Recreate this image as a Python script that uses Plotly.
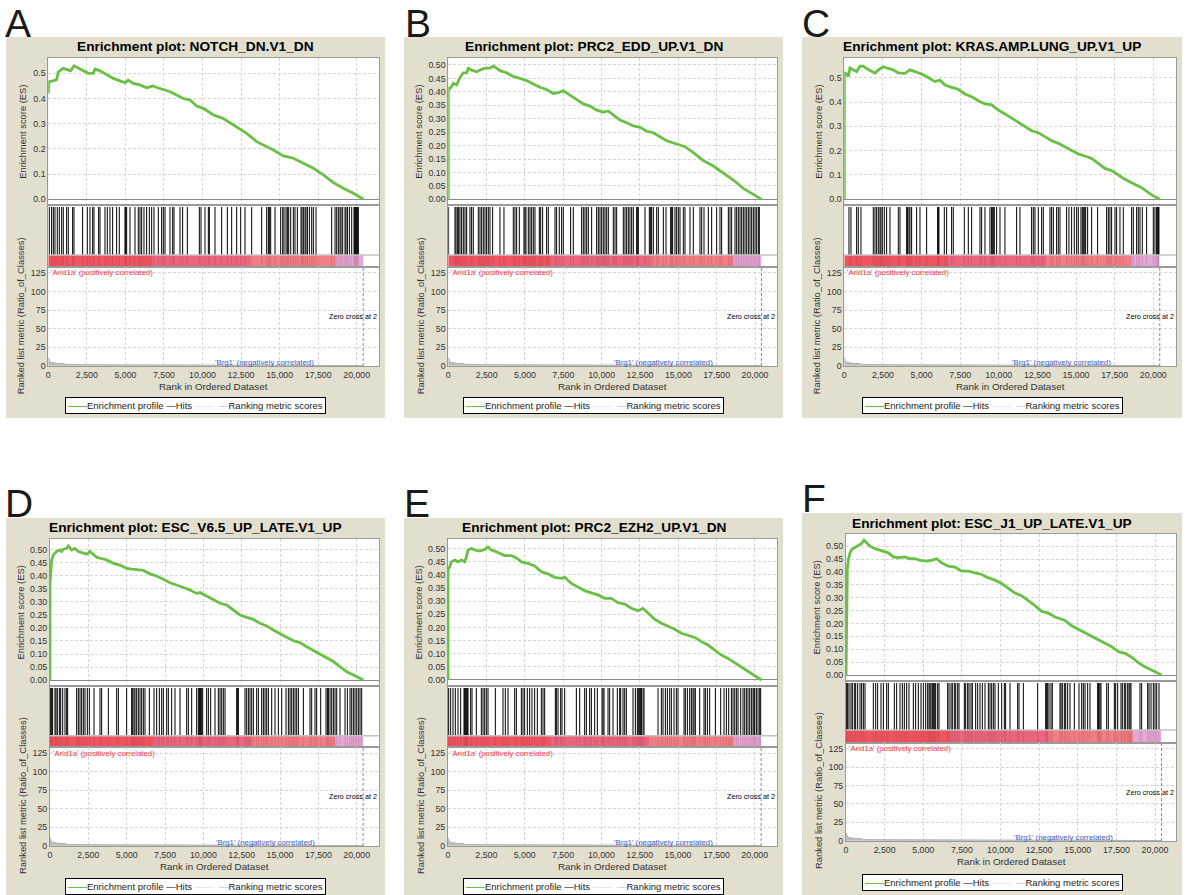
import plotly.graph_objects as go

W, H = 1193, 895
FONT = "Liberation Sans, Arial, sans-serif"

# ---------------- data ----------------
panel_letters = ["A", "B", "C", "D", "E", "F"]
gene_sets = ["NOTCH_DN.V1_DN", "PRC2_EDD_UP.V1_DN", "KRAS.AMP.LUNG_UP.V1_UP",
             "ESC_V6.5_UP_LATE.V1_UP", "PRC2_EZH2_UP.V1_DN", "ESC_J1_UP_LATE.V1_UP"]

es_rank_A = [0, 43, 324, 541, 649, 973, 1189, 1449, 1665, 1946, 2270, 2595, 2919, 3027, 3351, 3784,
             4216, 4649, 4973, 5189, 5514, 5946, 6378, 6811, 7027, 7459, 7892, 8324, 8757, 9189, 9622,
             10054, 10703, 11351, 12000, 12865, 13514, 14162, 14595, 15243, 15892, 16541, 17189,
             17838, 18486, 19135, 19784, 20432]
es_score_A = [0.42, 0.467, 0.47, 0.476, 0.506, 0.52, 0.516, 0.51, 0.53, 0.52, 0.51, 0.50, 0.50, 0.517,
              0.51, 0.494, 0.48, 0.47, 0.463, 0.473, 0.46, 0.454, 0.443, 0.45, 0.444, 0.436, 0.427,
              0.414, 0.40, 0.394, 0.37, 0.361, 0.335, 0.321, 0.295, 0.262, 0.229, 0.209, 0.196, 0.172,
              0.163, 0.143, 0.123, 0.097, 0.066, 0.044, 0.024, 0.0]

es_rank_B = [0, 0, 109, 217, 326, 543, 761, 978, 1196, 1304, 1522, 1848, 2065, 2391, 2717, 2935, 3152,
             3370, 3804, 4239, 4674, 5109, 5543, 5978, 6413, 6848, 7174, 7500, 7935, 8370, 8804, 9239,
             9674, 10109, 10435, 10761, 11196, 11630, 12065, 12500, 12935, 13370, 13804, 14239, 14891,
             15435, 15978, 16630, 17283, 17935, 18587, 19239, 19891, 20435]
es_score_B = [0, 0.413, 0.413, 0.42, 0.432, 0.426, 0.454, 0.471, 0.471, 0.488, 0.481, 0.475, 0.481,
              0.488, 0.488, 0.496, 0.488, 0.479, 0.471, 0.457, 0.45, 0.442, 0.429, 0.417, 0.409, 0.394,
              0.397, 0.404, 0.388, 0.37, 0.355, 0.347, 0.332, 0.325, 0.329, 0.314, 0.295, 0.285, 0.273,
              0.268, 0.254, 0.248, 0.233, 0.218, 0.206, 0.196, 0.174, 0.144, 0.124, 0.097, 0.072, 0.041,
              0.019, 0.0]

es_rank_C = [0, 0, 43, 151, 259, 367, 583, 798, 1014, 1230, 1446, 1769, 1985, 2201, 2524, 2848, 3172,
             3495, 3927, 4250, 4574, 5005, 5437, 5868, 6192, 6516, 6947, 7379, 7810, 8242, 8673, 9105,
             9536, 9968, 10399, 10831, 11262, 11694, 12125, 12557, 12988, 13420, 13851, 14283, 14714,
             15146, 15577, 16009, 16440, 16872, 17303, 17735, 18166, 18598, 19245, 19892, 20431]
es_score_C = [0, 0.52, 0.52, 0.515, 0.505, 0.54, 0.533, 0.525, 0.548, 0.548, 0.538, 0.525, 0.518, 0.532,
              0.545, 0.538, 0.532, 0.52, 0.518, 0.532, 0.525, 0.515, 0.501, 0.484, 0.49, 0.47, 0.46,
              0.452, 0.433, 0.422, 0.405, 0.392, 0.388, 0.367, 0.351, 0.333, 0.315, 0.299, 0.282, 0.274,
              0.258, 0.241, 0.23, 0.216, 0.2, 0.186, 0.178, 0.168, 0.148, 0.127, 0.118, 0.1, 0.082,
              0.068, 0.048, 0.018, 0.0]

es_rank_D = [0, 0, 109, 217, 435, 652, 761, 870, 1087, 1196, 1413, 1630, 1848, 2174, 2391, 2609, 2826,
             3043, 3261, 3587, 3913, 4239, 4565, 5000, 5326, 5652, 6087, 6522, 6957, 7391, 7826, 8261,
             8696, 9130, 9565, 9783, 10217, 10652, 11087, 11522, 11957, 12391, 12826, 13261, 13696,
             14130, 14565, 15000, 15435, 15870, 16304, 16739, 17174, 17609, 18043, 18478, 18913,
             19348, 19783, 20435]
es_score_D = [0, 0.372, 0.46, 0.481, 0.494, 0.5, 0.494, 0.503, 0.506, 0.515, 0.5, 0.506, 0.494, 0.487,
              0.484, 0.494, 0.481, 0.472, 0.468, 0.464, 0.455, 0.446, 0.442, 0.429, 0.426, 0.423, 0.421,
              0.408, 0.4, 0.387, 0.374, 0.365, 0.356, 0.346, 0.333, 0.336, 0.323, 0.308, 0.295, 0.288,
              0.269, 0.25, 0.241, 0.233, 0.218, 0.208, 0.192, 0.177, 0.164, 0.151, 0.144, 0.128, 0.113,
              0.099, 0.083, 0.071, 0.051, 0.032, 0.019, 0.0]

es_rank_E = [0, 0, 109, 217, 435, 652, 870, 1087, 1196, 1304, 1522, 1739, 2065, 2391, 2609, 2826, 3043,
             3370, 3696, 4130, 4457, 4783, 5217, 5652, 6087, 6522, 6957, 7391, 7609, 8043, 8478, 8913,
             9348, 9783, 10217, 10652, 11087, 11522, 11957, 12391, 12717, 13043, 13478, 13913, 14348,
             14783, 15217, 15652, 16087, 16522, 16957, 17391, 17826, 18261, 18696, 19130, 19565,
             20000, 20435]
es_score_E = [0, 0.421, 0.431, 0.45, 0.457, 0.45, 0.457, 0.45, 0.467, 0.495, 0.501, 0.495, 0.491, 0.497,
              0.506, 0.495, 0.491, 0.482, 0.474, 0.474, 0.465, 0.45, 0.444, 0.434, 0.412, 0.404, 0.391,
              0.387, 0.391, 0.368, 0.353, 0.34, 0.332, 0.324, 0.311, 0.311, 0.294, 0.289, 0.273, 0.264,
              0.273, 0.254, 0.231, 0.216, 0.206, 0.193, 0.178, 0.171, 0.162, 0.146, 0.133, 0.114,
              0.095, 0.082, 0.066, 0.048, 0.032, 0.015, 0.0]

es_rank_F = [0, 43, 86, 151, 259, 367, 583, 798, 1014, 1165, 1338, 1553, 1877, 2309, 2740, 3064, 3387,
             3819, 4142, 4466, 4790, 5221, 5545, 5868, 6192, 6624, 7055, 7486, 7918, 8350, 8781, 9212,
             9644, 10076, 10507, 10939, 11370, 11802, 12233, 12665, 13096, 13528, 13851, 14175, 14606,
             15038, 15469, 15901, 16332, 16764, 17195, 17627, 18058, 18490, 18921, 19353, 19784, 20420]
es_score_F = [0, 0.35, 0.41, 0.448, 0.474, 0.487, 0.494, 0.5, 0.51, 0.523, 0.513, 0.5, 0.49, 0.481,
              0.474, 0.458, 0.455, 0.458, 0.451, 0.451, 0.445, 0.442, 0.445, 0.451, 0.435, 0.422, 0.419,
              0.403, 0.403, 0.396, 0.39, 0.377, 0.368, 0.355, 0.338, 0.318, 0.308, 0.29, 0.269, 0.247,
              0.24, 0.225, 0.217, 0.212, 0.191, 0.178, 0.162, 0.149, 0.139, 0.123, 0.11, 0.091, 0.084,
              0.069, 0.048, 0.032, 0.019, 0.0]

hits_A = [65, 216, 324, 432, 584, 714, 865, 973, 1189, 1297, 1578, 1665, 2227, 2530, 2703, 2876, 2962,
          3265, 3351, 3676, 3827, 4000, 4173, 4432, 4605, 4973, 5016, 5081, 5297, 5622, 5838, 5946,
          6054, 6205, 6378, 6551, 6703, 6854, 7135, 7351, 7459, 7568, 7892, 8065, 8151, 8541, 8714,
          9016, 9795, 9903, 10162, 10378, 10443, 10811, 11243, 11611, 11892, 12216, 12476, 12757,
          13189, 13838, 14162, 14270, 14335, 14422, 14703, 15070, 15200, 15286, 15416, 15503, 15589,
          15719, 15892, 16000, 16151, 16389, 16454, 16541, 16649, 16714, 16800, 16930, 17081, 17189,
          17362, 18378, 18595, 18703, 18811, 18919, 18984, 19092, 19243, 19308, 19395, 19524, 19676,
          19827, 19870, 19914, 19957, 20000, 20043, 20108]
hits_B = [20, 435, 500, 587, 674, 761, 870, 978, 1087, 1196, 1413, 1522, 1630, 1957, 2065, 2174, 2283,
          2391, 2500, 2609, 2717, 2891, 3370, 3630, 4239, 4348, 4457, 4630, 4935, 5000, 5065, 5217,
          5326, 5435, 5543, 5652, 5935, 6022, 6152, 6413, 6522, 6957, 7065, 7239, 7391, 7500, 7978,
          8152, 8696, 8804, 8913, 9022, 9130, 9348, 9674, 9783, 9891, 10000, 10109, 10217, 10326,
          10435, 10761, 10870, 10978, 11413, 11522, 11630, 11739, 11848, 11957, 12065, 12283, 12326,
          12391, 12826, 13109, 13196, 13261, 13370, 13587, 13696, 14022, 14196, 14500, 14565, 14630,
          14783, 14891, 15000, 15109, 15326, 15435, 15761, 15978, 16413, 16522, 16674, 16957, 17174,
          17500, 17717, 17826, 18261, 18370, 18478, 18696, 18804, 18913, 19022, 19130, 19239, 19348,
          19457, 19565, 19674, 19783, 19891, 20000, 20109, 20217, 20283]
hits_C = [302, 432, 798, 906, 1079, 1877, 1985, 2093, 2201, 2309, 2373, 2460, 2589, 2740, 2956, 3495,
          3603, 4035, 4099, 4186, 4250, 4358, 4682, 4898, 5329, 6041, 6084, 6127, 6473, 6624, 6947,
          7055, 7767, 8026, 8242, 8781, 8889, 9105, 9428, 9536, 9579, 9644, 9709, 9860, 10076, 10399,
          11154, 11370, 12125, 12233, 12341, 12557, 12773, 12881, 13312, 13420, 13528, 13744, 13851,
          13959, 14391, 14542, 14714, 14887, 15038, 15146, 15318, 15405, 15469, 15534, 15620, 15750,
          16009, 16397, 16980, 17088, 17195, 17303, 17519, 17627, 17843, 18058, 18598, 18706, 18921,
          19029, 19137, 19288, 19569, 20000, 20108, 20216, 20281, 20324, 20367]
hits_D = [43, 109, 174, 326, 391, 478, 609, 696, 826, 978, 1087, 1152, 1739, 1848, 1957, 2065, 2174,
          2283, 2435, 2565, 2870, 3261, 3370, 3804, 4348, 4457, 5000, 5326, 5391, 5478, 5543, 5652,
          5761, 5870, 5978, 6087, 6196, 6478, 6783, 6957, 7130, 7283, 7391, 7609, 7717, 7935, 8152,
          8478, 8913, 9022, 9239, 9565, 9674, 9739, 9783, 9826, 9891, 9957, 10217, 10326, 10478,
          10761, 10978, 11087, 11196, 11304, 11413, 12174, 12217, 12283, 12717, 12826, 12935, 13043,
          13152, 13261, 13478, 13587, 13804, 13913, 14022, 14130, 14239, 14457, 14674, 14891, 15109,
          15391, 15543, 15652, 15761, 15870, 15978, 16087, 16196, 16522, 16957, 17065, 17283, 17391,
          17652, 18000, 18087, 18152, 18261, 18370, 18478, 18587, 18696, 18913, 19239, 19391, 19565,
          19674, 19783, 19891, 20000, 20109, 20217, 20326]
hits_E = [43, 174, 326, 478, 652, 826, 1043, 1087, 1152, 1196, 1261, 1304, 1478, 1565, 1848, 2174, 2283,
          2391, 2500, 2609, 3087, 3587, 3739, 3913, 4348, 4457, 4783, 4891, 5000, 5174, 5326, 5478,
          5652, 5826, 6087, 6196, 6304, 7000, 7065, 7174, 7348, 7435, 7609, 8370, 8587, 8913, 9022,
          9239, 9348, 9565, 9739, 10043, 10109, 10174, 10435, 10543, 10761, 11043, 11196, 11261,
          11413, 11522, 11630, 12065, 12217, 12348, 12435, 12500, 12565, 12609, 12717, 12783, 13696,
          13913, 14022, 14174, 14304, 14457, 14565, 14739, 14891, 15000, 15391, 15478, 15609, 15761,
          15870, 15978, 16043, 16130, 16413, 16696, 16783, 16913, 17065, 17435, 17783, 18000, 18152,
          18304, 18478, 18587, 18696, 18804, 18913, 19087, 19239, 19348, 19457, 19565, 19674, 19783,
          19891, 19957, 20000, 20109, 20217, 20326, 20391]
hits_F = [43, 108, 194, 324, 410, 539, 626, 755, 906, 1014, 1122, 1230, 1769, 1920, 2050, 2265, 2416,
          2632, 2740, 3128, 3279, 3495, 3646, 3776, 3927, 4078, 4358, 4509, 4682, 4854, 5005, 5156,
          5286, 5372, 5437, 5502, 5588, 5653, 5717, 5804, 5933, 6019, 6580, 6667, 6796, 6882, 7012,
          7098, 7228, 7314, 7659, 7745, 7875, 7961, 8091, 8177, 8393, 8522, 8673, 8824, 8997, 9212,
          9320, 9428, 9536, 9644, 9860, 10076, 10248, 10334, 10615, 11111, 11197, 11478, 12406,
          12924, 12988, 13053, 13139, 13269, 13355, 13851, 13916, 14002, 14131, 14218, 14347, 14498,
          14779, 15081, 15254, 15361, 15469, 15642, 15793, 16289, 16332, 16375, 16440, 16505, 16872,
          16980, 17368, 17454, 17584, 17800, 17886, 18015, 18102, 18231, 18317, 18382, 18447, 19029,
          19137, 19526, 19612, 19741, 19892, 20000, 20108, 20259]

# ranked list metric (gray area), same shape in all panels
metric_rank = [0, 30, 100, 300, 600, 1050, 1100, 3000, 5800, 5850, 20420]
metric_value = [10.5, 8.0, 5.0, 4.0, 3.0, 2.7, 1.4, 1.2, 1.1, 0.25, 0.1]

# colour bar under the hits (rank segment edges and colours)
colorbar_edges = [0, 6700, 13100, 18600, 20420]
colorbar_colors = ["#ef5560", "#e9667e", "#f17e85", "#e4a8d6"]

zero_cross_rank = 20420

es_ranks = [es_rank_A, es_rank_B, es_rank_C, es_rank_D, es_rank_E, es_rank_F]
es_scores = [es_score_A, es_score_B, es_score_C, es_score_D, es_score_E, es_score_F]
hits_all = [hits_A, hits_B, hits_C, hits_D, hits_E, hits_F]

# ---------------- geometry (pixels) ----------------
row1 = dict(es_top=58, hits_top=205, cb_top=255, rank_top=267, rank_bot=366,
            title_y=46.7, legend_y=405.7, xtitle_y=386, letter_y=24)
row2 = dict(es_top=539, hits_top=686, cb_top=735.7, rank_top=747.3, rank_bot=846,
            title_y=527, legend_y=886.5, xtitle_y=866.7, letter_y=503)
rowF = dict(es_top=534, hits_top=681, cb_top=730, rank_top=743, rank_bot=841,
            title_y=523, legend_y=882.3, xtitle_y=861.7, letter_y=498)
geom = [
    dict(row1, x0=48.3, x1=379.0, xmax=21446, es_rng=[-0.0226, 0.561], dt=0.1, fmt=".1f",
         bg=(6, 37, 385, 418), lx=5, es_dx=-26),
    dict(row1, x0=448.3, x1=777.3, xmax=21454, es_rng=[-0.021, 0.526], dt=0.05, fmt=".2f",
         bg=(404, 37, 783, 418), lx=405, es_dx=-30),
    dict(row1, x0=844.3, x1=1176.0, xmax=21470, es_rng=[-0.0234, 0.581], dt=0.1, fmt=".1f",
         bg=(802, 37, 1182, 418), lx=802, es_dx=-26),
    dict(row2, x0=50.0, x1=379.3, xmax=21474, es_rng=[-0.023, 0.542], dt=0.05, fmt=".2f",
         bg=(6, 518, 385, 895), lx=5, es_dx=-30),
    dict(row2, x0=448.0, x1=777.3, xmax=21474, es_rng=[-0.023, 0.537], dt=0.05, fmt=".2f",
         bg=(404, 518, 783, 895), lx=404, es_dx=-30),
    dict(rowF, x0=846.0, x1=1176.0, xmax=21359, es_rng=[-0.023, 0.547], dt=0.05, fmt=".2f",
         bg=(802, 513, 1182, 895), lx=802, es_dx=-30),
]

GREEN = "#6abf45"
GRID = "#d6d6d6"
GRIDDASH = "3px,2px"
BORDER = "#9a9a9a"
BEIGE = "#e2dfce"
TICKFONT = dict(family=FONT, size=8.8, color="#333333")


def px_x(x):
    return x / W


def px_y(y):
    return 1 - y / H


def ax_name(k, a):
    return f"{a}axis" + ("" if k == 1 else str(k))


def ax_ref(k, a):
    return a + ("" if k == 1 else str(k))


fig = go.Figure()
layout_axes = {}
shapes = []
annotations = []

for i, g in enumerate(geom):
    ke, kh, kr = 3 * i + 1, 3 * i + 2, 3 * i + 3
    xd = [px_x(g["x0"]), px_x(g["x1"])]
    xr = [0, g["xmax"]]
    span = g["rank_top"] - g["hits_top"]
    cb_frac = (g["rank_top"] - g["cb_top"]) / span
    hit_top = 1 - 2.0 / span

    # backgrounds
    bx0, by0, bx1, by1 = g["bg"]
    shapes.append(dict(type="rect", xref="paper", yref="paper", layer="below",
                       x0=px_x(bx0), x1=px_x(bx1), y0=px_y(by1), y1=px_y(by0),
                       fillcolor=BEIGE, line=dict(width=0)))
    shapes.append(dict(type="rect", xref="paper", yref="paper", layer="below",
                       x0=xd[0], x1=xd[1], y0=px_y(g["rank_bot"]), y1=px_y(g["es_top"]),
                       fillcolor="white", line=dict(width=0)))

    common_x = dict(domain=xd, range=xr, showline=True, mirror=True, linecolor=BORDER,
                    linewidth=1, zeroline=False, ticks="", tick0=0, dtick=2500)
    layout_axes[ax_name(ke, "x")] = dict(common_x, anchor=ax_ref(ke, "y"), showticklabels=False,
                                         showgrid=True, gridcolor=GRID, griddash=GRIDDASH)
    layout_axes[ax_name(ke, "y")] = dict(domain=[px_y(g["hits_top"]), px_y(g["es_top"])],
                                         range=g["es_rng"], anchor=ax_ref(ke, "x"), tick0=0,
                                         dtick=g["dt"], tickformat=g["fmt"], showgrid=True,
                                         gridcolor=GRID, griddash=GRIDDASH, zeroline=True,
                                         zerolinecolor="#8a8a8a", zerolinewidth=1, showline=True,
                                         mirror=True, linecolor=BORDER, ticks="",
                                         tickfont=TICKFONT)
    layout_axes[ax_name(kh, "x")] = dict(common_x, anchor=ax_ref(kh, "y"), showticklabels=False,
                                         showgrid=False)
    layout_axes[ax_name(kh, "y")] = dict(domain=[px_y(g["rank_top"]), px_y(g["hits_top"])],
                                         range=[0, 1], anchor=ax_ref(kh, "x"), showgrid=False,
                                         zeroline=False, showticklabels=False, ticks="",
                                         showline=True, mirror=True, linecolor=BORDER)
    layout_axes[ax_name(kr, "x")] = dict(common_x, anchor=ax_ref(kr, "y"), showticklabels=True,
                                         tickformat=",d", showgrid=True, gridcolor=GRID,
                                         griddash=GRIDDASH, tickfont=TICKFONT)
    layout_axes[ax_name(kr, "y")] = dict(domain=[px_y(g["rank_bot"]), px_y(g["rank_top"])],
                                         range=[-0.5, 133], anchor=ax_ref(kr, "x"), tick0=0,
                                         dtick=25, showgrid=True, gridcolor=GRID, griddash=GRIDDASH,
                                         zeroline=False, showline=True, mirror=True,
                                         linecolor=BORDER, ticks="", tickfont=TICKFONT)

    xe, ye = ax_ref(ke, "x"), ax_ref(ke, "y")
    xh, yh = ax_ref(kh, "x"), ax_ref(kh, "y")
    xrk, yrk = ax_ref(kr, "x"), ax_ref(kr, "y")

    # colour bar
    n = len(colorbar_colors)
    fig.add_trace(go.Heatmap(
        x=colorbar_edges, y=[0, cb_frac], z=[list(range(n))], zmin=0, zmax=n - 1,
        colorscale=[[j / (n - 1), c] for j, c in enumerate(colorbar_colors)],
        showscale=False, hoverinfo="skip", xaxis=xh, yaxis=yh))
    # darker streaks in the colour bar at the hits
    sx, sy = [], []
    for h in hits_all[i]:
        sx += [h, h, None]
        sy += [0, cb_frac, None]
    fig.add_trace(go.Scatter(x=sx, y=sy, mode="lines",
                             line=dict(color="rgba(120,20,40,0.15)", width=1),
                             hoverinfo="skip", showlegend=False, xaxis=xh, yaxis=yh))
    # hits
    hx, hy = [], []
    for h in hits_all[i]:
        hx += [h, h, None]
        hy += [cb_frac, hit_top, None]
    fig.add_trace(go.Scatter(x=hx, y=hy, mode="lines", line=dict(color="black", width=1),
                             hoverinfo="skip", showlegend=False, xaxis=xh, yaxis=yh))
    shapes.append(dict(type="line", xref=f"{xh} domain", yref=yh, x0=0, x1=1, y0=cb_frac,
                       y1=cb_frac, line=dict(color="#c4c4c4", width=1.5)))

    # enrichment profile
    fig.add_trace(go.Scatter(x=es_ranks[i], y=es_scores[i], mode="lines",
                             line=dict(color=GREEN, width=2.8), hoverinfo="skip",
                             showlegend=False, xaxis=xe, yaxis=ye))

    # ranked list metric
    fig.add_trace(go.Scatter(x=metric_rank, y=metric_value, mode="lines", fill="tozeroy",
                             fillcolor="#bdbdbd", line=dict(color="#b0b0b0", width=1),
                             hoverinfo="skip", showlegend=False, xaxis=xrk, yaxis=yrk))
    fig.add_trace(go.Scatter(x=[zero_cross_rank, zero_cross_rank], y=[-0.5, 133], mode="lines",
                             line=dict(color="#8a8a8a", width=1, dash="3px,2px"), hoverinfo="skip",
                             showlegend=False, xaxis=xrk, yaxis=yrk))

    # texts
    cx = (bx0 + bx1) / 2
    annotations += [
        dict(text=panel_letters[i], xref="paper", yref="paper", x=px_x(g["lx"] - 2),
             y=px_y(g["letter_y"]), xanchor="left", yanchor="middle", showarrow=False,
             font=dict(family=FONT, size=39, color="#1a1a1a")),
        dict(text="<b>Enrichment plot: " + gene_sets[i] + "</b>", xref="paper", yref="paper",
             x=px_x(cx), y=px_y(g["title_y"]), xanchor="center", yanchor="middle",
             showarrow=False, font=dict(family=FONT, size=13.7, color="black")),
        dict(text="Enrichment score (ES)", xref="paper", yref="paper",
             x=px_x(g["x0"] + g["es_dx"]), y=px_y((g["es_top"] + g["hits_top"]) / 2),
             textangle=-90, xanchor="center", yanchor="middle", showarrow=False,
             font=dict(family=FONT, size=9.4, color="#333333")),
        dict(text="Ranked list metric (Ratio_of_Classes)", xref="paper", yref="paper",
             x=px_x(g["x0"] - 28), y=px_y(g["rank_bot"] - 50), textangle=-90,
             xanchor="center", yanchor="middle", showarrow=False,
             font=dict(family=FONT, size=9.4, color="#333333")),
        dict(text="Rank in Ordered Dataset", xref="paper", yref="paper",
             x=px_x((g["x0"] + g["x1"]) / 2), y=px_y(g["xtitle_y"]), xanchor="center",
             yanchor="middle", showarrow=False, font=dict(family=FONT, size=9.8, color="#333333")),
        dict(text="'Arid1a' (positively correlated)", xref=xrk, yref=yrk, x=40, y=125,
             xanchor="left", yanchor="middle", showarrow=False,
             font=dict(family=FONT, size=7.8, color="#f03a44")),
        dict(text="'Brg1' (negatively correlated)", xref=xrk, yref=yrk, x=14050, y=4.5,
             xanchor="center", yanchor="middle", showarrow=False,
             font=dict(family=FONT, size=7.8, color="#3a5cc8")),
        dict(text="Zero cross at 2", xref=xrk, yref=yrk, x=g["xmax"], y=66,
             xanchor="right", yanchor="middle", showarrow=False,
             font=dict(family=FONT, size=7.2, color="black")),
        dict(text=("<span style='color:" + GREEN + "'><b>——</b></span>Enrichment profile "
                   "<span style='color:black'>—</span>Hits "
                   "<span style='color:#d9d9d9'>——</span>  "
                   "<span style='color:#b5b5b5'>—</span>Ranking metric scores"),
             xref="paper", yref="paper", x=px_x(cx), y=px_y(g["legend_y"]),
             xanchor="center", yanchor="middle", showarrow=False, bgcolor="white",
             bordercolor="black", borderwidth=1, borderpad=2,
             font=dict(family=FONT, size=9.5, color="#222222")),
    ]

fig.update_layout(
    width=W, height=H, margin=dict(l=0, r=0, t=0, b=0), template="none",
    paper_bgcolor="white", plot_bgcolor="rgba(0,0,0,0)", showlegend=False,
    hovermode=False, shapes=shapes, annotations=annotations,
    font=dict(family=FONT), **layout_axes)

fig.write_html("out.html",
               config={"displayModeBar": False, "staticPlot": True},
               post_script="document.documentElement.style.margin='0';"
                           "document.body.style.margin='0';"
                           "document.body.style.overflow='hidden';")
